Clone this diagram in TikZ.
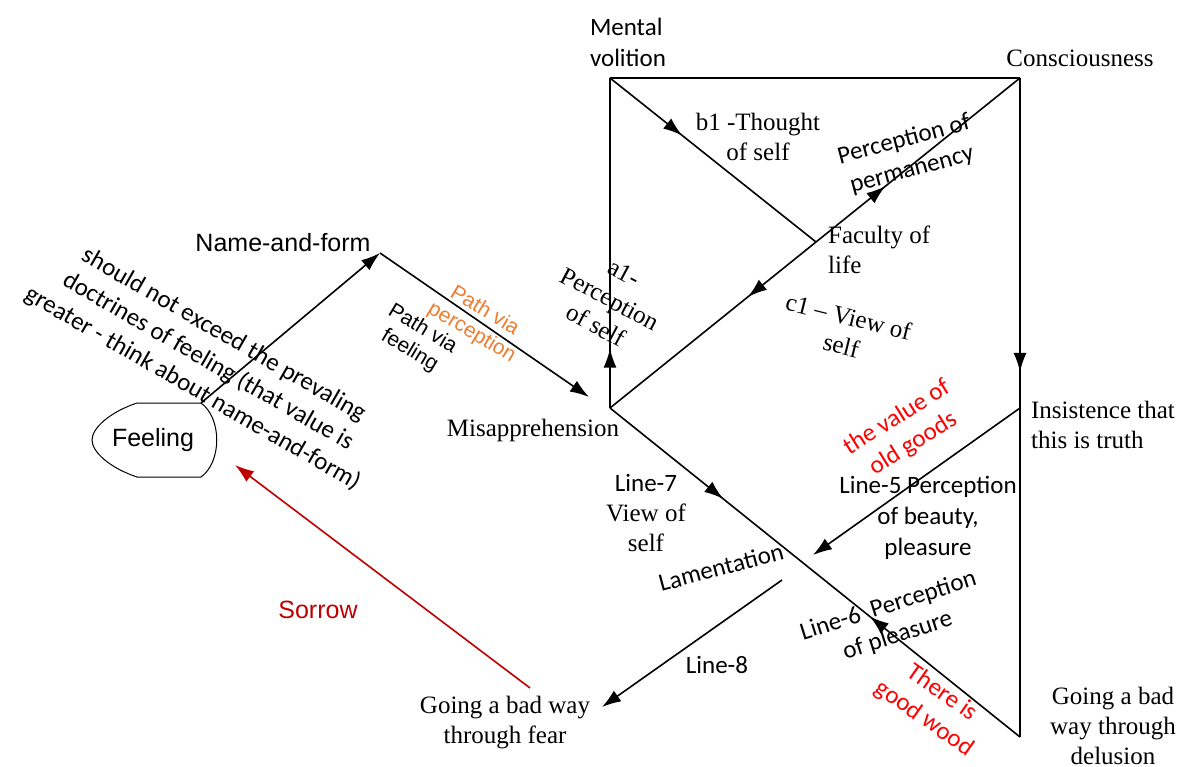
\documentclass[tikz,border=0pt]{standalone}
\usepackage{fontspec}
\setmainfont{Liberation Serif}
\setsansfont{Liberation Sans}
\newfontfamily\calibri{Carlito}
\usepackage{xcolor}
\usepackage{tikz}
\usetikzlibrary{arrows.meta,decorations.markings}
\definecolor{pathorange}{RGB}{237,125,49}
\definecolor{sorrowred}{RGB}{192,0,0}
\tikzstyle{arrow} = [-{Latex[length=19pt,width=13pt]}]
\tikzstyle{tnr} = [font=\fontsize{25}{30}\selectfont, align=center]
\tikzstyle{cal} = [font=\fontsize{25}{31}\selectfont\calibri, align=center]
\tikzstyle{ari} = [font=\fontsize{25}{30}\selectfont\sffamily, align=center]
\tikzstyle{arismall} = [font=\fontsize{21}{25}\selectfont\sffamily, align=center]
\tikzset{
  midarrow/.style={postaction={decorate, decoration={markings, mark=at position #1 with {\arrow{Latex[length=19pt,width=13pt]}}}}},
  backarrow/.style={postaction={decorate, decoration={markings, mark=at position #1 with {\arrowreversed{Latex[length=19pt,width=13pt]}}}}}
}

\begin{document}
\begin{tikzpicture}[x=1pt, y=-1pt, line width=1.6pt]
	\useasboundingbox (0,0) rectangle (1189,767);

	% corners of the frame
	\coordinate (mv) at (610,78);
	\coordinate (co) at (1020,78);
	\coordinate (fl) at (816,242);
	\coordinate (mis) at (610,408);
	\coordinate (tru) at (1020,408);
	\coordinate (gd) at (1020,737);
	\coordinate (nf) at (380,253);
	\coordinate (feeltr) at (201,403);
	\coordinate (p1end) at (589,397);
	\coordinate (l5end) at (813,555);
	\coordinate (l8a) at (782,580);
	\coordinate (l8b) at (602,707);
	\coordinate (sa) at (530,688);
	\coordinate (sb) at (235,465);

	\node[cal, align=left] (mvtext) at (628,42) {Mental\\volition};
	\node[tnr] (cons) at (1080,58) {Consciousness};
	\node[tnr] (b1) at (758,137) {b1 -Thought\\of self};
	\node[cal, rotate=15] (perm) at (908,155) {Perception of\\permanency};
	\node[tnr, anchor=west, align=left] (fac) at (824,250) {Faculty of\\life};
	\node[tnr, rotate=-28] (a1) at (610,299) {a1-\\Perception\\of self};
	\node[tnr, rotate=-14] (c1) at (845,331) {c1 -- View of\\self};
	\node[ari] (nftext) at (283,243) {Name-and-form};
	\node[cal, rotate=-30] (note) at (208,362) {should not exceed the prevaling\\doctrines of feeling (that value is\\greater - think about name-and-form)};
	\node[arismall, text=pathorange, rotate=-31] (pperc) at (478,322) {Path via\\perception};
	\node[arismall, rotate=-31] (pfeel) at (416,340) {Path via\\feeling};
	\node[tnr] (misapp) at (533,430) {Misapprehension};
	\node[tnr] (l7) at (646,513) {{\calibri Line-7}\\View of\\self};
	\node[cal, rotate=15] (lam) at (721,567) {Lamentation};
	\node[cal, text=red, rotate=32] (oldg) at (905,431) {the value of\\old goods};
	\node[cal] (l5) at (928,518) {Line-5 Perception\\of beauty,\\pleasure};
	\node[cal, rotate=17.5] (l6) at (893,621) {Line-6\ \ Perception\\of pleasure};
	\node[cal, text=red, rotate=-35] (wood) at (933,706) {There is\\good wood};
	\node[tnr, anchor=west, align=left] (ins) at (1027,425) {Insistence that\\this is truth};
	\node[tnr] (gdd) at (1113,726) {Going a bad\\way through\\delusion};
	\node[tnr] (fear) at (505,723) {Going a bad way\\through fear};
	\node[cal] (l8) at (717,665) {Line-8};
	\node[ari, text=sorrowred] (sorrow) at (318,610) {Sorrow};
	\node[ari] (feeling) at (153,440) {Feeling};

	% display shape round Feeling
	\draw[line width=1pt] (137,403) -- (201,403) .. controls (222,418) and (222,462) .. (201,477) -- (137,477) .. controls (110,468) and (92,452) .. (92,440) .. controls (92,428) and (110,412) .. (137,403);

	\draw (mv) -- (co);
	\draw[midarrow=0.18] (mis) -- (mv);
	\draw[midarrow=0.35] (mv) -- (fl);
	\draw[midarrow=0.34] (fl) -- (co);
	\draw[midarrow=0.33] (fl) -- (mis);
	\draw[midarrow=0.446] (co) -- (gd);
	\draw[midarrow=0.276, backarrow=0.634] (mis) -- (gd);
	\draw[arrow] (feeltr) -- (nf);
	\draw[arrow] (nf) -- (p1end);
	\draw[arrow] (tru) -- (l5end);
	\draw[arrow] (l8a) -- (l8b);
	\draw[arrow, sorrowred] (sa) -- (sb);
\end{tikzpicture}
\end{document}
